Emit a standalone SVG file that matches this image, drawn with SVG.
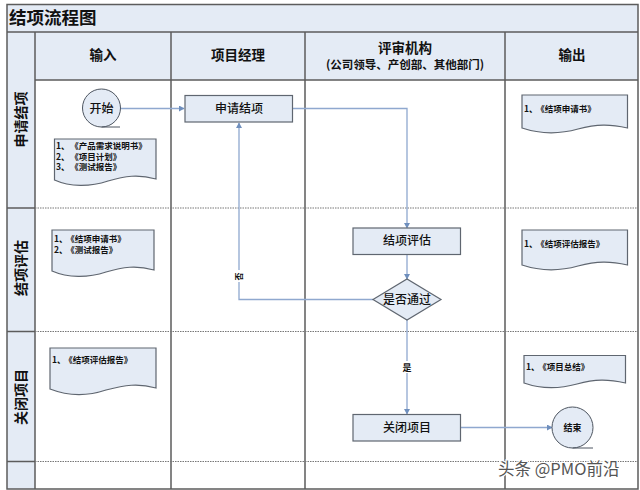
<svg xmlns="http://www.w3.org/2000/svg" width="640" height="490" viewBox="0 0 640 490">
<style>
text{font-family:"Noto Sans CJK SC","Liberation Sans",sans-serif;fill:#111;text-anchor:middle}
.b{font-weight:700}
.lane{fill:#e4ebf5}
.grid{stroke:#5c5c5c;stroke-width:1.5;fill:none}
.dash{stroke:#777;stroke-width:1;stroke-dasharray:1.5 1;fill:none}
.shape{fill:#e4ebf5;stroke:#5f6670;stroke-width:1.2}
.circ{fill:#e4ebf5;stroke:#4d5560;stroke-width:1}
.conn{fill:none;stroke:#8fa8cf;stroke-width:1.3}
.doc{font-size:8.5px;font-weight:700;text-anchor:start}
.box{font-size:12px;font-weight:500}
.head{font-size:13.500px;font-weight:700}
.side{font-size:14px;font-weight:700}
</style>
<defs>
<marker id="arr" markerWidth="6" markerHeight="6" refX="5" refY="3" orient="auto" markerUnits="userSpaceOnUse"><path d="M0 0L5.500 3L0 6Z" fill="#6f8fbd"/></marker>
</defs>
<rect width="640" height="490" fill="#fff"/>
<g id="frame">
<rect class="lane" x="7" y="4" width="631" height="28"/>
<rect class="lane" x="7" y="32" width="631" height="48"/>
<rect class="lane" x="7" y="32" width="28" height="457"/>
<path class="grid" d="M7 4.500H638V32H7ZM7 32V489H638V32M35 32V489M171 32V489M305 32V489M505 32V489M35 80H638M7 208H35M7 331.500H35M7 461.500H35"/>
<path class="dash" d="M35 208H638M35 331.500H638M35 461.500H638"/>
<text class="b" x="9" y="24" style="font-size:17.500px;text-anchor:start">结项流程图</text>
</g>
<g id="headers">
<text class="head" x="103" y="60">输入</text>
<text class="head" x="238" y="60">项目经理</text>
<text class="head" x="405" y="53">评审机构</text>
<text class="b" x="405" y="69" style="font-size:11.500px">(公司领导、产创部、其他部门)</text>
<text class="head" x="572" y="60">输出</text>
</g>
<g id="lanes">
<text class="side" transform="translate(21 119.500) rotate(-90)" dy="5">申请结项</text>
<text class="side" transform="translate(21 268) rotate(-90)" dy="5">结项评估</text>
<text class="side" transform="translate(21 397) rotate(-90)" dy="5">关闭项目</text>
</g>
<g id="connectors">
<path class="conn" d="M120.500 108.500H184" marker-end="url(#arr)"/>
<path class="conn" d="M293 108.500H407V228" marker-end="url(#arr)"/>
<path class="conn" d="M407 255V279" marker-end="url(#arr)"/>
<path class="conn" d="M373 299.500H239V123" marker-end="url(#arr)"/>
<path class="conn" d="M407 320V414" marker-end="url(#arr)"/>
<path class="conn" d="M461 427.500H552" marker-end="url(#arr)"/>
<g id="label-no"><rect x="233" y="270" width="12" height="12" fill="#fff"/><text class="b" transform="translate(239 276.500) rotate(-90)" dy="3" style="font-size:8px">否</text></g>
<g id="label-yes"><rect x="401" y="361" width="12" height="12" fill="#fff"/><text class="b" x="407" y="370.500" style="font-size:9px">是</text></g>
</g>
<g id="start"><circle class="circ" cx="101.500" cy="108" r="19"/><path class="circ" d="M101.500 127H120" style="fill:none"/><text class="box" x="101.500" y="112.500">开始</text></g>
<g id="apply"><rect class="shape" x="185" y="95.500" width="107.500" height="26.500"/><text class="box" x="239" y="113">申请结项</text></g>
<g id="evaluate"><rect class="shape" x="353" y="228" width="107.500" height="26.500"/><text class="box" x="407" y="245">结项评估</text></g>
<g id="decision"><path class="shape" d="M373 299.500L407 279L441 299.500L407 320Z"/><text class="box" x="407" y="304">是否通过</text></g>
<g id="close"><rect class="shape" x="353" y="414.500" width="107.500" height="26.500"/><text class="box" x="407" y="432">关闭项目</text></g>
<g id="end"><circle class="circ" cx="572.500" cy="427.500" r="20.500"/><path class="circ" d="M572.500 448H593" style="fill:none"/><text class="b" x="572.500" y="431" style="font-size:9px">结束</text></g>
<g id="doc-input-1"><path class="shape" d="M54.500 139H156V179C138 174 125 176 108 181C90 187 70 187 54.500 180Z"/>
<text class="doc" x="56" y="149">1、<tspan dx="5">《产品需求说明书》</tspan></text><text class="doc" x="56" y="159.500">2、<tspan dx="5">《项目计划》</tspan></text><text class="doc" x="56" y="170">3、<tspan dx="5">《测试报告》</tspan></text></g>
<g id="doc-input-2"><path class="shape" d="M52 230H154V270C136 265 123 267 106 272C88 278 68 278 52 271Z"/>
<text class="doc" x="54" y="242">1、<tspan dx="3">《结项申请书》</tspan></text><text class="doc" x="54" y="252.500">2、<tspan dx="3">《测试报告》</tspan></text></g>
<g id="doc-input-3"><path class="shape" d="M50 348H156V388C138 383 125 385 106 390C88 396 68 396 50 389Z"/>
<text class="doc" x="52" y="363">1、<tspan dx="3">《结项评估报告》</tspan></text></g>
<g id="doc-out-1"><path class="shape" d="M522 95H627.500V128C610 124 597 124 578 129C560 134 540 134 522 128Z"/>
<text class="doc" x="524" y="112">1、<tspan dx="3">《结项申请书》</tspan></text></g>
<g id="doc-out-2"><path class="shape" d="M522 230H627.500V265C610 261 597 261 578 266C560 271 540 271 522 265Z"/>
<text class="doc" x="524" y="247">1、<tspan dx="3">《结项评估报告》</tspan></text></g>
<g id="doc-out-3"><path class="shape" d="M524 355.500H625.500V383C608 379 595 379 577 384C559 389 541 389 524 383Z"/>
<text class="doc" x="526" y="370">1、<tspan dx="3">《项目总结》</tspan></text></g>
<text x="498" y="475" style="font-size:16.500px;text-anchor:start;fill:#555;stroke:#fff;stroke-width:2.500px;paint-order:stroke">头条 @PMO前沿</text>
</svg>
